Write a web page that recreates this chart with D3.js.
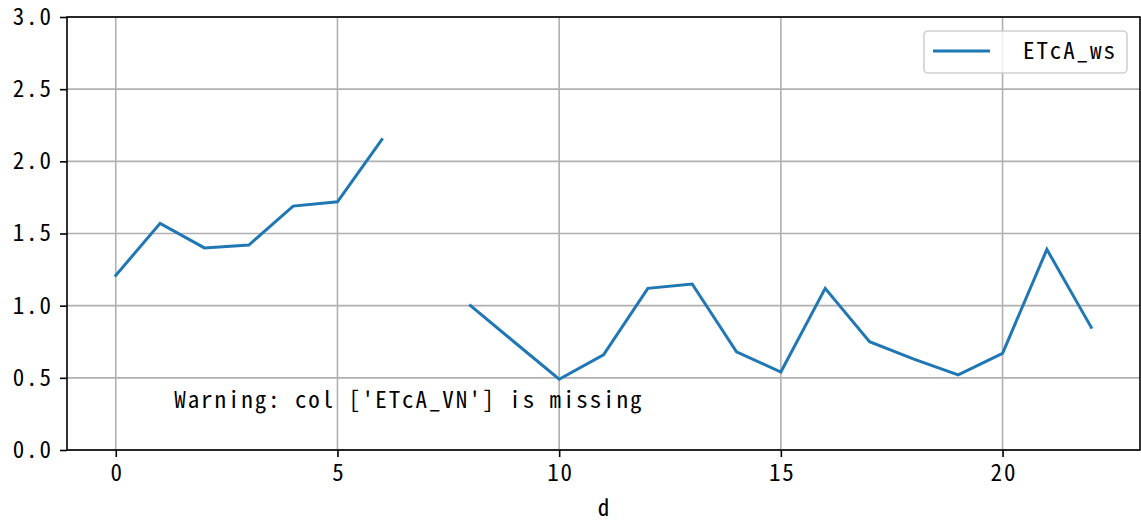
<!DOCTYPE html>
<html><head><meta charset="utf-8">
<script src="https://cdn.jsdelivr.net/npm/d3@7"></script>
<style>body{margin:0;background:#fff}svg{display:block}text{font-family:"Noto Sans Mono CJK SC","Noto Sans CJK SC","DejaVu Sans Mono",monospace}</style>
</head><body>
<svg id="c" width="1141" height="520"></svg>
<script>
const days = [0,1,2,3,4,5,6,7,8,9,10,11,12,13,14,15,16,17,18,19,20,21,22];
const etcaWs = [1.21,1.57,1.40,1.42,1.69,1.72,2.15,null,1.00,0.745,0.49,0.66,1.12,1.15,0.68,0.54,1.12,0.75,0.63,0.52,0.67,1.39,0.85];
const xTicks = [0,5,10,15,20];
const yTicks = [0,0.5,1.0,1.5,2.0,2.5,3.0];
const seriesName = "ETcA_ws";
const warningText = "Warning: col ['ETcA_VN'] is missing";
const xLabel = "d";

const svg = d3.select("#c");
const L=67,R=1140,T=17,B=450;
const x = d3.scaleLinear().domain([-1.1,23.1]).range([L,R]);
const y = d3.scaleLinear().domain([0,3]).range([B,T]);
const fs = 23, ls = 1.9;
const ff = '"Noto Sans Mono CJK SC","Noto Sans CJK SC",monospace';

// grid
svg.append("g").selectAll("line").data(xTicks).join("line")
  .attr("x1",d=>x(d)).attr("x2",d=>x(d)).attr("y1",T).attr("y2",B)
  .attr("stroke","#b0b0b0").attr("stroke-width",1.6);
svg.append("g").selectAll("line").data(yTicks).join("line")
  .attr("y1",d=>y(d)).attr("y2",d=>y(d)).attr("x1",L).attr("x2",R)
  .attr("stroke","#b0b0b0").attr("stroke-width",1.6);

// line
const data = days.map((d,i)=>({d, v:etcaWs[i]}));
svg.append("path").datum(data)
  .attr("d", d3.line().defined(p=>p.v!=null).x(p=>x(p.d)).y(p=>y(p.v)))
  .attr("fill","none").attr("stroke","#1f77b4").attr("stroke-width",3).attr("stroke-linecap","square");

// axes
const xAxis = d3.axisBottom(x).tickValues(xTicks).tickFormat(d3.format("d")).tickSize(7).tickPadding(8);
const gx = svg.append("g").attr("transform",`translate(0,${B})`).call(xAxis);
const yAxis = d3.axisLeft(y).tickValues(yTicks).tickFormat(d3.format(".1f")).tickSize(7).tickPadding(8);
const gy = svg.append("g").attr("transform",`translate(${L},0)`).call(yAxis);
[gx,gy].forEach(g=>{
  g.select(".domain").remove();
  g.selectAll(".tick line").attr("stroke","#000").attr("stroke-width",1.6);
  g.selectAll(".tick text").attr("font-size",fs).attr("fill","#000").style("font-family",ff).style("letter-spacing",ls+"px");
});
gx.selectAll(".tick text").attr("dx", ls/2);
gy.selectAll(".tick text").attr("dx", ls-1);

// spines
svg.append("rect").attr("x",L).attr("y",T).attr("width",R-L).attr("height",B-T)
  .attr("fill","none").attr("stroke","#000").attr("stroke-width",1.6);

// warning
svg.append("text").attr("x",L+(R-L)*0.1).attr("y",B-(B-T)*0.1+1)
  .attr("font-size",fs).style("letter-spacing",ls+"px").text(warningText);

// x label
svg.append("text").attr("x",(L+R)/2).attr("y",516).attr("text-anchor","middle").attr("font-size",fs).text(xLabel);

// legend
const lg = svg.append("g");
lg.append("rect").attr("x",924).attr("y",31).attr("width",203).attr("height",42).attr("rx",4)
  .attr("fill","rgba(255,255,255,0.8)").attr("stroke","#d0d0d0").attr("stroke-width",1.6);
lg.append("line").attr("x1",933).attr("x2",990).attr("y1",51).attr("y2",51).attr("stroke","#1f77b4").attr("stroke-width",3);
lg.append("text").attr("x",1023).attr("y",59).attr("font-size",fs).style("letter-spacing",ls+"px").text(seriesName);
</script>
</body></html>
